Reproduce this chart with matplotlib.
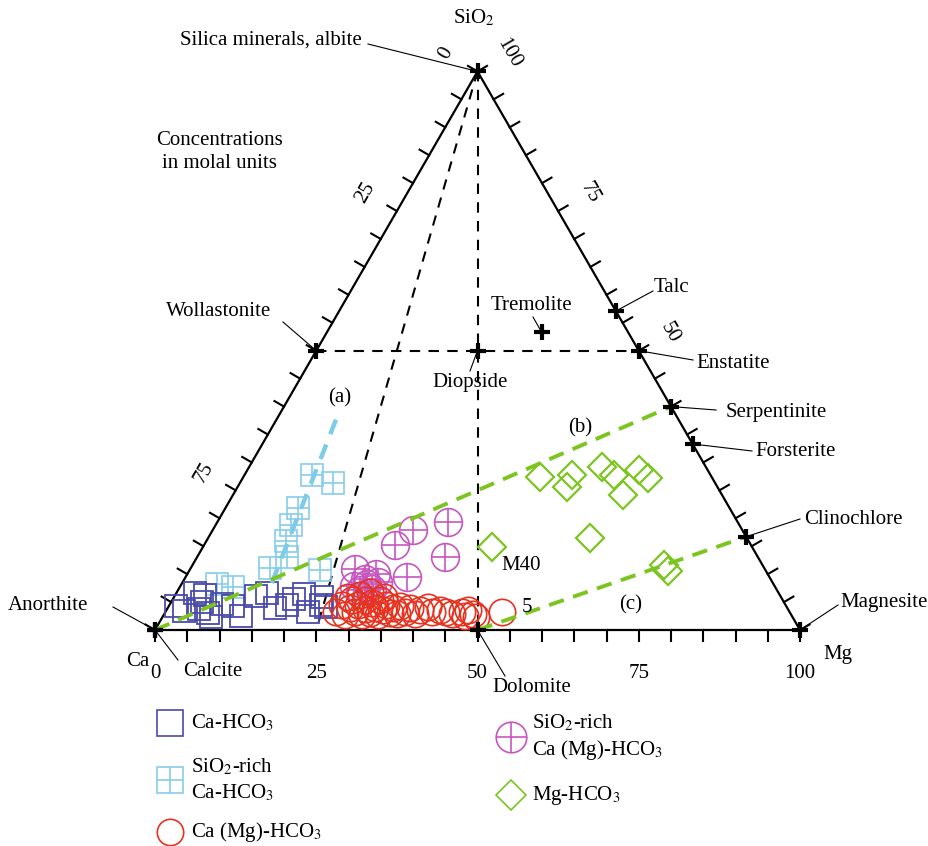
import numpy as np
import matplotlib.pyplot as plt

plt.rcParams['font.family'] = ['Liberation Serif', 'DejaVu Serif']
plt.rcParams['mathtext.fontset'] = 'stix'

# compositions in molal %, Ca = 100 - Mg - SiO2
ca_hco3_mg = [1.1, 2.9, 4.8, 4.9, 6.7, 7.5, 8.0, 9.9, 12.1, 12.6, 14.1, 16.6, 18.2, 18.8, 19.9,
              22.1, 23.5, 24.5, 22.9, 2.8, 4.6]
ca_hco3_si = [4.3, 6.6, 5.0, 3.8, 3.0, 2.3, 4.7, 4.3, 2.5, 6.1, 6.6, 3.9, 4.5, 5.5, 6.4,
              3.2, 4.5, 4.1, 5.9, 3.4, 6.3]

si_ca_mg = [10.5, 14.4, 11.3, 11.7, 12.3, 13.9, 12.3, 20.2, 5.5, 8.2]
si_ca_si = [27.7, 26.3, 21.8, 18.8, 15.9, 13.1, 11.1, 10.7, 8.2, 7.7]

camg_mg = [26.5, 26.7, 28.1, 28.3, 27.8, 29.4, 29.2, 30.7, 29.9, 30.8, 31.8, 31.2, 32.2, 33.2,
           32.2, 33.6, 33.6, 34.9, 35.0, 36.1, 35.8, 37.2, 37.6, 38.9, 39.3, 40.3, 41.4, 42.4,
           43.5, 44.6, 46.0, 46.8, 46.7, 47.9, 48.6, 52.2, 28.6, 29.9, 32.6, 27.0]
camg_si = [3.2, 4.5, 2.7, 3.9, 5.4, 3.2, 4.5, 2.7, 5.4, 3.8, 3.0, 4.8, 3.9, 2.7,
           5.4, 3.6, 4.5, 3.0, 3.9, 2.9, 4.3, 3.2, 3.9, 2.9, 3.6, 4.1, 3.2, 3.6,
           3.2, 2.9, 3.2, 2.5, 3.6, 2.9, 2.3, 3.2, 6.3, 6.8, 5.9, 5.9]

si_camg_mg = [35.8, 38.4, 31.0, 29.6, 34.3, 25.6, 29.3, 26.9, 28.8, 30.0, 28.0, 30.3, 28.2]
si_camg_si = [19.3, 13.1, 17.9, 15.2, 9.5, 10.9, 10.0, 7.9, 8.2, 7.3, 9.1, 8.6, 7.2]

mg_hco3_mg = [46.0, 51.1, 50.8, 54.7, 57.3, 60.5, 60.7, 62.8, 59.2, 44.8, 73.1, 74.2]
mg_hco3_si = [27.4, 25.6, 27.7, 29.2, 27.7, 24.2, 28.6, 27.2, 16.5, 14.9, 11.6, 10.6]

minerals = ['Silica minerals, albite', 'Wollastonite', 'Diopside', 'Enstatite', 'Tremolite',
            'Talc', 'Serpentinite', 'Forsterite', 'Clinochlore', 'Magnesite', 'Dolomite',
            'Calcite', 'Anorthite']
mineral_mg = [0, 0, 25, 50, 33.3, 42.9, 60, 66.7, 83.3, 100, 50, 0, 0]
mineral_si = [100, 50, 50, 50, 53.3, 57.1, 40, 33.3, 16.7, 0, 0, 0, 0]

trend_a = ([13.9, 9.1], [8.4, 38.5])
trend_b = ([0, 60], [0, 40])
trend_c = ([50, 83.3], [0, 16.7])

H = np.sqrt(3) / 2


def tern(mg, si):
    mg = np.asarray(mg, float) / 100
    si = np.asarray(si, float) / 100
    return mg + si / 2, si * H


def px(x, y):
    return (x - 155) / 645, (630 - y) / 645


fig = plt.figure(figsize=(9.29, 8.46), dpi=100)
ax = fig.add_axes([0, 0, 1, 1])
ax.set_xlim(-155 / 645, 774 / 645)
ax.set_ylim(-216 / 645, 630 / 645)
ax.axis('off')

# triangle
ax.plot([0, 1, 0.5, 0], [0, 0, H, 0], color='black', lw=1.6, zorder=3)

# ticks
L = 11 / 645
t = np.linspace(0, 1, 21)
for ti in t:
    ax.plot([ti, ti], [0, -L], color='black', lw=1.5)
    x0, y0 = 0.5 * ti, H * ti
    ax.plot([x0, x0 - H * L], [y0, y0 + 0.5 * L], color='black', lw=1.5)
    x1, y1 = 1 - 0.5 * ti, H * ti
    ax.plot([x1, x1 + H * L], [y1, y1 + 0.5 * L], color='black', lw=1.5)

fs = 15
for v in [0, 25, 50, 75, 100]:
    ax.text(v / 100, -43 / 645, str(v), ha='center', va='center', fontsize=fs)
d = 36 / 645
for v in [0, 25, 75]:
    ti = 1 - v / 100
    ax.text(0.5 * ti - H * d, H * ti + 0.5 * d, str(v), ha='center', va='center',
            rotation=60, fontsize=fs)
for v in [100, 75, 50]:
    ti = v / 100
    ax.text(1 - 0.5 * ti + H * d, H * ti + 0.5 * d, str(v), ha='center', va='center',
            rotation=-60, fontsize=fs)

ax.text(*px(474, 18), 'SiO$_2$', ha='center', va='center', fontsize=fs)
ax.text(*px(138, 661), 'Ca', ha='center', va='center', fontsize=fs)
ax.text(*px(838, 655), 'Mg', ha='center', va='center', fontsize=fs)
ax.text(*px(219, 152), 'Concentrations\nin molal units', ha='center', va='center',
        fontsize=fs, linespacing=1.25)

# dashed guide lines
dash_k = dict(color='black', lw=1.5, dashes=(5, 4), zorder=2)
ax.plot(*tern([0, 50], [100, 0]), **dash_k)
ax.plot(*tern([0, 25], [100, 0]), **dash_k)
ax.plot(*tern([0, 50], [50, 50]), **dash_k)

# samples
ax.plot(*tern(si_ca_mg, si_ca_si), 's', ms=16.5, mfc='none', mec='#87cde9', mew=1.2, zorder=4)
ax.plot(*tern(si_ca_mg, si_ca_si), '+', ms=16.5, mec='#87cde9', mew=1.2, zorder=4)
ax.plot(*tern(ca_hco3_mg, ca_hco3_si), 's', ms=16.5, mfc='none', mec='#4a4aaa', mew=1.3, zorder=5)
ax.plot(*tern(si_camg_mg, si_camg_si), 'o', ms=20, mfc='none', mec='#c755c0', mew=1.2, zorder=6)
ax.plot(*tern(si_camg_mg, si_camg_si), '+', ms=20, mec='#c755c0', mew=1.2, zorder=6)
ax.plot(*tern(camg_mg, camg_si), 'o', ms=19, mfc='none', mec='#e6321e', mew=1.2, zorder=7)
ax.plot(*tern(mg_hco3_mg, mg_hco3_si), 'D', ms=14.5, mfc='none', mec='#7cc520', mew=1.6, zorder=7)

# trend lines
ax.plot(*tern(*trend_a), color='#7ccbe8', lw=3.2, dashes=(3.5, 2.5), zorder=8)
ax.plot(*tern(*trend_b), color='#7cc520', lw=2.8, dashes=(4, 2.5), zorder=8)
ax.plot(*tern(*trend_c), color='#7cc520', lw=2.8, dashes=(4, 2.5), zorder=8)

# minerals
mx, my = tern(mineral_mg, mineral_si)
ax.plot(mx, my, '+', ms=12, mec='black', mew=3, zorder=9)
label_pos = [(271, 40), (219, 311), (470, 382), (733, 364), (531, 305), (671, 287),
             (776, 412), (796, 452), (853, 520), (884, 602), (532, 688), (213, 671), (48, 605)]
leader_from = [(368, 44), (283, 322), (470, 371), (693, 360), (533, 317), (653, 291),
               (716, 410), (752, 451), (800, 519), (838, 605), (505, 676), (178, 660), (113, 607)]
for name, x, y, lp, lf in zip(minerals, mx, my, label_pos, leader_from):
    ax.text(*px(*lp), name, ha='center', va='center', fontsize=fs, zorder=10)
    fx, fy = px(*lf)
    ax.plot([fx, x], [fy, y], color='black', lw=0.8, zorder=9)

for txt, p in [('(a)', (340, 398)), ('(b)', (580, 428)), ('(c)', (631, 605)),
               ('M40', (521, 566)), ('5', (527, 607))]:
    ax.text(*px(*p), txt, ha='center', va='center', fontsize=fs, zorder=10)

# legend
def legend_item(x, y, label, marker, color, ms, cross=False):
    ax.plot(*px(x, y), marker, ms=ms, mfc='none', mec=color, mew=1.2)
    if cross:
        ax.plot(*px(x, y), '+', ms=ms, mec=color, mew=1.2)
    ax.text(*px(x + 21, y), label, ha='left', va='center', fontsize=fs, linespacing=1.3)

legend_item(170, 723, 'Ca-HCO$_3$', 's', '#4a4aaa', 19)
legend_item(170, 780, 'SiO$_2$-rich\nCa-HCO$_3$', 's', '#87cde9', 19, cross=True)
legend_item(170, 832, 'Ca (Mg)-HCO$_3$', 'o', '#e6321e', 19)
legend_item(511, 737, 'SiO$_2$-rich\nCa (Mg)-HCO$_3$', 'o', '#c755c0', 22, cross=True)
legend_item(511, 795, 'Mg-HCO$_3$', 'D', '#7cc520', 15)

fig.savefig('out.png', dpi=100)
